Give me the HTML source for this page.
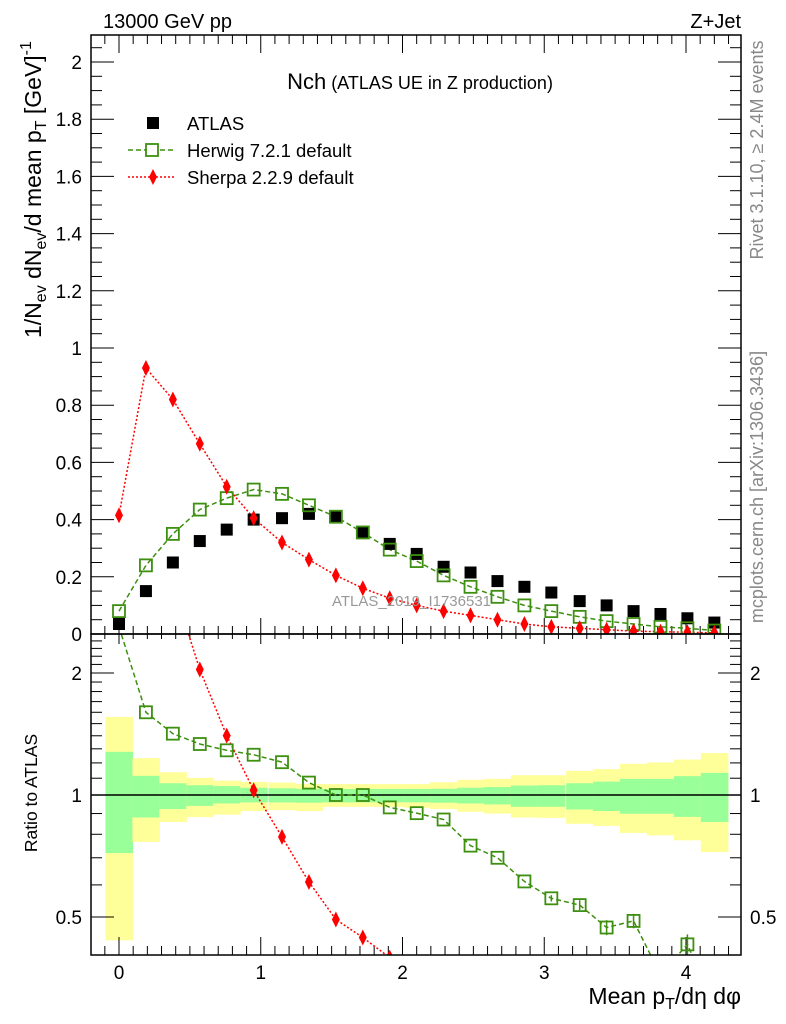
<!DOCTYPE html>
<html><head><meta charset="utf-8"><style>
html,body{margin:0;padding:0;background:#fff;overflow:hidden;width:786px;height:1024px;}
svg{display:block;font-family:"Liberation Sans",Arial,sans-serif;}
</style></head><body>
<svg id="chart" width="786" height="1024" viewBox="0 0 786 1024" xmlns="http://www.w3.org/2000/svg">
<defs>
<clipPath id="clipMain"><rect x="91" y="35" width="650" height="599"/></clipPath>
<clipPath id="clipRatio"><rect x="91" y="634" width="650" height="321"/></clipPath>
</defs>
<g id="bands" clip-path="url(#clipRatio)"></g>
<g id="ticks"></g>
<g id="series"></g>
<rect x="91" y="35" width="650" height="599" fill="none" stroke="#000" stroke-width="1.5"/>
<rect x="91" y="634" width="650" height="321" fill="none" stroke="#000" stroke-width="1.5"/>
<text x="103" y="28" font-size="20">13000 GeV pp</text>
<text x="741" y="28" font-size="20" text-anchor="end">Z+Jet</text>
<text x="420" y="89" text-anchor="middle"><tspan font-size="22">Nch</tspan><tspan font-size="18"> (ATLAS UE in Z production)</tspan></text>
<text x="332" y="606" font-size="15" fill="#999">ATLAS_2019_I1736531</text>
<g>
<rect x="147" y="117" width="12" height="12" fill="#000"/>
<text x="187" y="130" font-size="18.5">ATLAS</text>
<line x1="128" y1="150" x2="175" y2="150" stroke="#3d8f10" stroke-width="1.5" stroke-dasharray="5,3"/>
<rect x="146" y="144" width="12" height="12" fill="#fff" stroke="#3d8f10" stroke-width="1.8"/>
<text x="187" y="157" font-size="18.5">Herwig 7.2.1 default</text>
<line x1="128" y1="177" x2="175" y2="177" stroke="#f00" stroke-width="1.5" stroke-dasharray="2,2"/>
<path d="M153,169 L157,177 L153,185 L149,177 Z" fill="#f00"/>
<text x="187" y="184" font-size="18.5">Sherpa 2.2.9 default</text>
</g>
<text transform="translate(41,338) rotate(-90)" font-size="23">1/N<tspan font-size="16" dy="5">ev</tspan><tspan dy="-5"> dN</tspan><tspan font-size="16" dy="5">ev</tspan><tspan dy="-5">/d mean p</tspan><tspan font-size="16" dy="5">T</tspan><tspan dy="-5"> [GeV]</tspan><tspan font-size="16" dy="-10">-1</tspan></text>
<text transform="translate(37,793) rotate(-90)" font-size="17.5" text-anchor="middle">Ratio to ATLAS</text>
<text x="741" y="1004" font-size="23" text-anchor="end">Mean p<tspan font-size="16" dy="5">T</tspan><tspan dy="-5">/dη dφ</tspan></text>
<text transform="translate(763,150) rotate(-90)" font-size="18" fill="#888" text-anchor="middle">Rivet 3.1.10, ≥ 2.4M events</text>
<text transform="translate(763,487) rotate(-90)" font-size="18" fill="#888" text-anchor="middle">mcplots.cern.ch [arXiv:1306.3436]</text>
</svg>
<script>
const xCenters = [0,0.19,0.38,0.57,0.76,0.95,1.15,1.34,1.53,1.72,1.91,2.1,2.29,2.48,2.67,2.86,3.05,3.25,3.44,3.63,3.82,4.01,4.2];
const atlasValues = [0.035,0.15,0.25,0.325,0.365,0.40,0.405,0.42,0.41,0.355,0.315,0.28,0.235,0.215,0.185,0.165,0.145,0.115,0.1,0.08,0.07,0.055,0.04];
const herwigValues = [0.08,0.24,0.35,0.435,0.475,0.505,0.49,0.45,0.41,0.355,0.295,0.255,0.205,0.165,0.13,0.1,0.08,0.06,0.045,0.035,0.025,0.02,0.012];
const sherpaValues = [0.415,0.93,0.82,0.665,0.515,0.405,0.32,0.26,0.205,0.16,0.125,0.1,0.08,0.065,0.05,0.035,0.025,0.02,0.015,0.01,0.008,0.006,0.004];
const herwigRatio = [2.6,1.60,1.417,1.336,1.289,1.257,1.205,1.073,1.0,1.0,0.932,0.902,0.870,0.750,0.700,0.612,0.556,0.535,0.471,0.489,0.36,0.428,0.3];
const herwigRatioErr = [0,0,0,0,0,0,0,0,0,0,0,0,0,0,0,0,0.01,0.015,0.02,0.02,0.03,0.025,0.03];
const sherpaRatio = [11.9,6.2,3.3,2.04,1.401,1.027,0.788,0.610,0.493,0.445,0.397,0.357,0.34,0.30,0.27,0.21,0.17,0.17,0.15,0.125,0.11,0.11,0.1];
const yellowTop = [1.558,1.233,1.138,1.102,1.085,1.077,1.073,1.064,1.064,1.064,1.064,1.064,1.075,1.090,1.096,1.119,1.119,1.147,1.158,1.194,1.203,1.223,1.269];
const greenTop = [1.278,1.115,1.069,1.057,1.052,1.042,1.039,1.036,1.035,1.035,1.035,1.035,1.036,1.042,1.046,1.055,1.057,1.069,1.079,1.096,1.096,1.113,1.134];
const greenBot = [0.719,0.880,0.923,0.940,0.953,0.959,0.959,0.957,0.959,0.959,0.959,0.959,0.957,0.953,0.948,0.935,0.935,0.921,0.913,0.899,0.899,0.883,0.858];
const yellowBot = [0.438,0.766,0.858,0.882,0.894,0.913,0.918,0.913,0.935,0.935,0.935,0.930,0.923,0.909,0.900,0.880,0.878,0.849,0.839,0.806,0.795,0.773,0.723];
const mainTicks = ["0","0.2","0.4","0.6","0.8","1","1.2","1.4","1.6","1.8","2"];
const ratioTicks = ["0.5","1","2"];
const xTicks = ["0","1","2","3","4"];

const NS="http://www.w3.org/2000/svg";
const X = v => 119 + v*141.75;
const Y = v => 634 - v*286;
const R = v => 795 - Math.log2(v)*122;
const halfBin = 0.0955;
function mk(tag, attrs, parent){const e=document.createElementNS(NS,tag);for(const k in attrs)e.setAttribute(k,attrs[k]);parent.appendChild(e);return e;}
const bands=document.getElementById('bands'), ticks=document.getElementById('ticks'), series=document.getElementById('series');

xCenters.forEach((c,i)=>{
  const x0=X(c-halfBin), x1=X(c+halfBin);
  let y=mk('rect',{x:x0,y:R(yellowTop[i]),width:x1-x0+0.5,height:R(yellowBot[i])-R(yellowTop[i]),fill:'#ffff99'},bands);
  
  
  let g=mk('rect',{x:x0,y:R(greenTop[i]),width:x1-x0+0.5,height:R(greenBot[i])-R(greenTop[i]),fill:'#99ff99'},bands);
  
  
});
let one=mk('line',{x1:91,x2:741,y1:R(1),y2:R(1),stroke:'#000','stroke-width':1.5},bands);



for(let k=0;k<=41;k++){
  const v=k*0.05, y=Y(v); if(y<35) break;
  const major=k%4===0, len=major?23:11;
  mk('line',{x1:91,x2:91+len,y1:y,y2:y,stroke:'#000','stroke-width':1},ticks);
  mk('line',{x1:741,x2:741-len,y1:y,y2:y,stroke:'#000','stroke-width':1},ticks);
}
mainTicks.forEach(t=>{
  const el=mk('text',{x:82,y:Y(parseFloat(t))+7,'font-size':19,'text-anchor':'end'},ticks);
  el.textContent=t;
  
  
});
const rminor=[0.5,0.6,0.7,0.8,0.9,1,1.1,1.2,1.3,1.4,1.5,1.6,1.7,1.8,1.9,2,2.1,2.2,2.3,2.4];
rminor.forEach(v=>{
  const y=R(v), major=(v===0.5||v===1||v===2), len=major?23:11;
  mk('line',{x1:91,x2:91+len,y1:y,y2:y,stroke:'#000'},ticks);
  mk('line',{x1:741,x2:741-len,y1:y,y2:y,stroke:'#000'},ticks);
});
ratioTicks.forEach(t=>{
  const v=parseFloat(t);
  const a=mk('text',{x:82,y:R(v)+7,'font-size':19,'text-anchor':'end'},ticks);
  a.textContent=t;
  
  
  const b=mk('text',{x:750,y:R(v)+7,'font-size':19},ticks);
  b.textContent=t;
  
  
});
for(let k=-1;k<=43;k++){
  const v=k*0.1, x=X(v); if(x<92||x>740) continue;
  const major=k%10===0;
  mk('line',{x1:x,x2:x,y1:35,y2:35+(major?18:9),stroke:'#000'},ticks);
  mk('line',{x1:x,x2:x,y1:634,y2:634-(major?16:8),stroke:'#000'},ticks);
  mk('line',{x1:x,x2:x,y1:634,y2:634+(major?10:5),stroke:'#000'},ticks);
  mk('line',{x1:x,x2:x,y1:955,y2:955-(major?18:9),stroke:'#000'},ticks);
}
xTicks.forEach(t=>{
  const el=mk('text',{x:X(parseFloat(t)),y:979,'font-size':19,'text-anchor':'middle'},ticks);
  el.textContent=t;
  
  
});

const gm=mk('g',{'clip-path':'url(#clipMain)'},series);
const gr=mk('g',{'clip-path':'url(#clipRatio)'},series);
function line(vals, yf, parent, color, dash, name){
  const p=mk('polyline',{points:vals.map((v,i)=>X(xCenters[i])+','+yf(v)).join(' '),fill:'none',stroke:color,'stroke-width':1.5,'stroke-dasharray':dash},parent);
  
  
}
line(herwigValues,Y,gm,'#3d8f10','5,3','herwig-line');
line(sherpaValues,Y,gm,'#f00','2,2','sherpa-line');
atlasValues.forEach((v,i)=>{
  const r=mk('rect',{x:X(xCenters[i])-6,y:Y(v)-6,width:12,height:12,fill:'#000'},gm);
  
  
});
function herwigMarker(x,y,parent,name){
  const r=mk('rect',{x:x-6,y:y-6,width:12,height:12,fill:'none',stroke:'#3d8f10','stroke-width':1.8},parent);
  
  
}
function sherpaMarker(x,y,parent,name){
  const d=mk('path',{d:`M${x},${y-8} L${x+4},${y} L${x},${y+8} L${x-4},${y} Z`,fill:'#f00'},parent);
  
  
}
herwigValues.forEach((v,i)=>herwigMarker(X(xCenters[i]),Y(v),gm,'herwig-point'));
sherpaValues.forEach((v,i)=>sherpaMarker(X(xCenters[i]),Y(v),gm,'sherpa-point'));

line(herwigRatio,R,gr,'#3d8f10','5,3','herwig-ratio-line');
line(sherpaRatio,R,gr,'#f00','2,2','sherpa-ratio-line');
herwigRatio.forEach((v,i)=>{
  const x=X(xCenters[i]);
  if(herwigRatioErr[i]>0){
    const e=mk('line',{x1:x,x2:x,y1:R(v+herwigRatioErr[i]),y2:R(v-herwigRatioErr[i]),stroke:'#3d8f10','stroke-width':1.5},gr);
    
    
  }
  herwigMarker(x,R(v),gr,'herwig-ratio-point');
});
sherpaRatio.forEach((v,i)=>sherpaMarker(X(xCenters[i]),R(v),gr,'sherpa-ratio-point'));
</script>
</body></html>
